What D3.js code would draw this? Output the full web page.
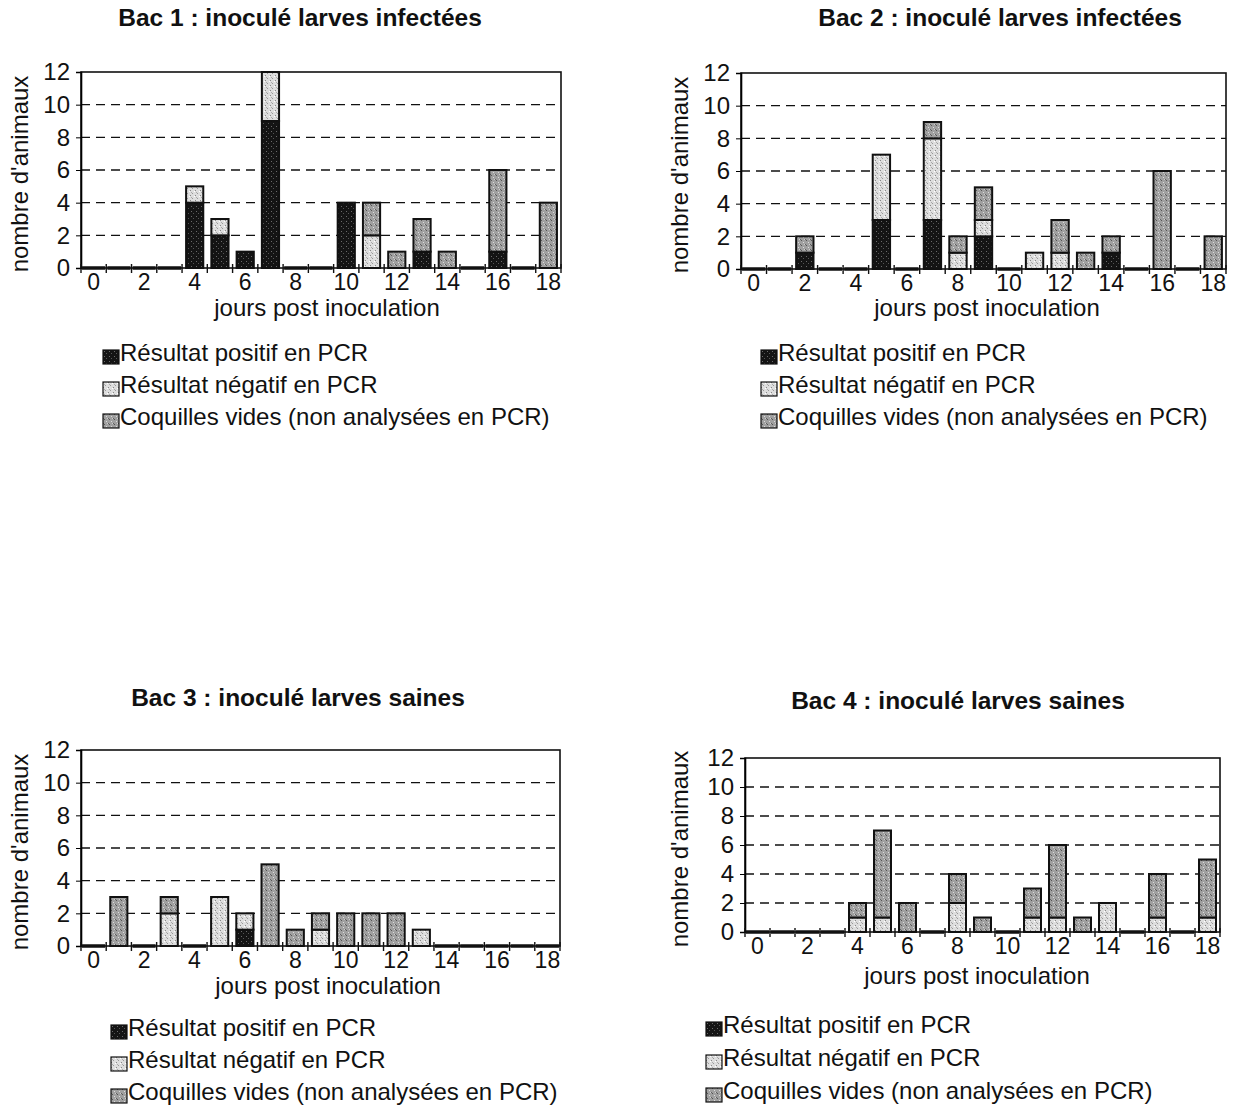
<!DOCTYPE html>
<html>
<head>
<meta charset="utf-8">
<script src="https://cdn.jsdelivr.net/npm/d3@7"></script>
<style>
body { margin: 0; background: #fff; }
text { font-family: Arial, "Liberation Sans", sans-serif; fill: #111; }
.title { font-weight: bold; font-size: 24.5px; }
.lbl { font-size: 24px; }
</style>
</head>
<body>
<svg width="1238" height="1113"></svg>
<script>
// jours post inoculation
const days = [0, 1, 2, 3, 4, 5, 6, 7, 8, 9, 10, 11, 12, 13, 14, 15, 16, 17, 18]
const xTicks = [0, 2, 4, 6, 8, 10, 12, 14, 16, 18]
const yTicks = [0, 2, 4, 6, 8, 10, 12]

const titles = [
    "Bac 1 : inoculé larves infectées",
    "Bac 2 : inoculé larves infectées",
    "Bac 3 : inoculé larves saines",
    "Bac 4 : inoculé larves saines"
]
const legendLabels = [
    "Résultat positif en PCR",
    "Résultat négatif en PCR",
    "Coquilles vides (non analysées en PCR)"
]

// Bac 1
const pos1 = [0, 0, 0, 0, 4, 2, 1, 9, 0, 0, 4, 0, 0, 1, 0, 0, 1, 0, 0]
const neg1 = [0, 0, 0, 0, 1, 1, 0, 3, 0, 0, 0, 2, 0, 0, 0, 0, 0, 0, 0]
const vid1 = [0, 0, 0, 0, 0, 0, 0, 0, 0, 0, 0, 2, 1, 2, 1, 0, 5, 0, 4]
// Bac 2
const pos2 = [0, 0, 1, 0, 0, 3, 0, 3, 0, 2, 0, 0, 0, 0, 1, 0, 0, 0, 0]
const neg2 = [0, 0, 0, 0, 0, 4, 0, 5, 1, 1, 0, 1, 1, 0, 0, 0, 0, 0, 0]
const vid2 = [0, 0, 1, 0, 0, 0, 0, 1, 1, 2, 0, 0, 2, 1, 1, 0, 6, 0, 2]
// Bac 3
const pos3 = [0, 0, 0, 0, 0, 0, 1, 0, 0, 0, 0, 0, 0, 0, 0, 0, 0, 0, 0]
const neg3 = [0, 0, 0, 2, 0, 3, 1, 0, 0, 1, 0, 0, 0, 1, 0, 0, 0, 0, 0]
const vid3 = [0, 3, 0, 1, 0, 0, 0, 5, 1, 1, 2, 2, 2, 0, 0, 0, 0, 0, 0]
// Bac 4
const pos4 = [0, 0, 0, 0, 0, 0, 0, 0, 0, 0, 0, 0, 0, 0, 0, 0, 0, 0, 0]
const neg4 = [0, 0, 0, 0, 1, 1, 0, 0, 2, 0, 0, 1, 1, 0, 2, 0, 1, 0, 1]
const vid4 = [0, 0, 0, 0, 1, 6, 2, 0, 2, 1, 0, 2, 5, 1, 0, 0, 3, 0, 4]

const keys = ["pos", "neg", "vid"]

const panels = [
    { title: titles[0], pos: pos1, neg: neg1, vid: vid1,
      left: 81, right: 561, top: 72, bottom: 268, titleX: 300, titleY: 20,
      yTitleX: 22, xTitleX: 327, xTitleY: 310, legendX: 103, legendY: [355, 387, 419] },
    { title: titles[1], pos: pos2, neg: neg2, vid: vid2,
      left: 741, right: 1226, top: 73, bottom: 269, titleX: 1000, titleY: 20,
      yTitleX: 682, xTitleX: 987, xTitleY: 310, legendX: 761, legendY: [355, 387, 419] },
    { title: titles[2], pos: pos3, neg: neg3, vid: vid3,
      left: 81, right: 560, top: 750, bottom: 946, titleX: 298, titleY: 700,
      yTitleX: 22, xTitleX: 328, xTitleY: 988, legendX: 111, legendY: [1030, 1062, 1094] },
    { title: titles[3], pos: pos4, neg: neg4, vid: vid4,
      left: 745, right: 1220, top: 758, bottom: 932, titleX: 958, titleY: 703,
      yTitleX: 682, xTitleX: 977, xTitleY: 978, legendX: 706, legendY: [1027, 1060, 1093] }
]

const svg = d3.select("svg")
const defs = svg.append("defs")

// speckled fills, like the photocopied original
const addPattern = (id, bg, dots) => {
    const p = defs.append("pattern")
        .attr("id", id)
        .attr("width", 5)
        .attr("height", 5)
        .attr("patternUnits", "userSpaceOnUse")
    p.append("rect").attr("width", 5).attr("height", 5).attr("fill", bg)
    dots.forEach(d => {
        p.append("rect")
            .attr("x", d[0]).attr("y", d[1])
            .attr("width", 1).attr("height", 1)
            .attr("fill", d[2])
    })
}
addPattern("pat-pos", "#141414", [[1, 1, "#6a6a6a"], [3, 3, "#555"]])
addPattern("pat-neg", "#dedede", [[0, 0, "#888"], [2, 3, "#999"], [4, 1, "#fff"], [1, 2, "#aaa"]])
addPattern("pat-vid", "#a0a0a0", [[1, 0, "#555"], [3, 2, "#dcdcdc"], [0, 4, "#606060"], [4, 4, "#cfcfcf"]])

const fills = { pos: "url(#pat-pos)", neg: "url(#pat-neg)", vid: "url(#pat-vid)" }

const drawPanel = (p) => {
    const g = svg.append("g")

    const x = d3.scaleBand()
        .domain(days)
        .range([p.left, p.right])
        .paddingInner(0.32)
        .paddingOuter(0.16)

    const y = d3.scaleLinear()
        .domain([0, 12])
        .range([p.bottom, p.top])

    const rows = days.map((d, i) => {
        return { day: d, pos: p.pos[i], neg: p.neg[i], vid: p.vid[i] }
    })
    const series = d3.stack().keys(keys)(rows)

    // dashed grid
    g.selectAll("line.grid")
        .data(yTicks.filter(v => v > 0 && v < 12))
        .enter()
        .append("line")
        .attr("class", "grid")
        .attr("x1", p.left)
        .attr("x2", p.right)
        .attr("y1", d => y(d))
        .attr("y2", d => y(d))
        .attr("stroke", "#111")
        .attr("stroke-width", 1.4)
        .attr("stroke-dasharray", "9,6")

    // frame
    g.append("rect")
        .attr("x", p.left)
        .attr("y", y(12))
        .attr("width", p.right - p.left)
        .attr("height", y(0) - y(12))
        .attr("fill", "none")
        .attr("stroke", "#111")
        .attr("stroke-width", 1.6)

    // y axis
    const yAxis = g.append("g")
        .attr("transform", `translate(${p.left},0)`)
        .call(d3.axisLeft(y).tickValues(yTicks).tickSize(5).tickPadding(6))
    yAxis.select(".domain").attr("stroke-width", 1.6)
    yAxis.selectAll("text")
        .attr("font-size", 24)
        .attr("font-family", "Arial, 'Liberation Sans', sans-serif")

    // x ticks sit between the day cells
    const gap = (x.step() - x.bandwidth()) / 2
    const bounds = days.map(d => x(d) - gap).concat([x(days[days.length - 1]) + x.bandwidth() + gap])
    g.selectAll("line.xtick")
        .data(bounds)
        .enter()
        .append("line")
        .attr("class", "xtick")
        .attr("x1", d => d)
        .attr("x2", d => d)
        .attr("y1", y(0) - 4)
        .attr("y2", y(0) + 5)
        .attr("stroke", "#111")
        .attr("stroke-width", 1.4)

    const xAxis = g.append("g")
        .attr("transform", `translate(0,${y(0)})`)
        .call(d3.axisBottom(x).tickValues(xTicks).tickSize(0).tickPadding(6))
    xAxis.select(".domain").remove()
    xAxis.selectAll("text")
        .attr("font-size", 23)
        .attr("font-family", "Arial, 'Liberation Sans', sans-serif")

    // empty days: thick segment on the baseline
    g.selectAll("line.zero")
        .data(rows.filter(r => r.pos + r.neg + r.vid === 0))
        .enter()
        .append("line")
        .attr("class", "zero")
        .attr("x1", d => x(d.day) - 3)
        .attr("x2", d => x(d.day) + x.bandwidth() + 3)
        .attr("y1", y(0))
        .attr("y2", y(0))
        .attr("stroke", "#111")
        .attr("stroke-width", 3.5)

    // stacked bars
    series.forEach(s => {
        g.selectAll(null)
            .data(s.filter(d => d[1] > d[0]))
            .enter()
            .append("rect")
            .attr("x", d => x(d.data.day))
            .attr("y", d => y(d[1]))
            .attr("width", x.bandwidth())
            .attr("height", d => y(d[0]) - y(d[1]))
            .attr("fill", fills[s.key])
            .attr("stroke", "#111")
            .attr("stroke-width", 2)
    })

    // titles
    g.append("text")
        .attr("class", "title")
        .attr("x", p.titleX)
        .attr("y", p.titleY)
        .attr("text-anchor", "middle")
        .attr("dominant-baseline", "middle")
        .text(p.title)

    g.append("text")
        .attr("class", "lbl")
        .attr("transform", `translate(${p.yTitleX},${(y(0) + y(12)) / 2 + 4}) rotate(-90)`)
        .attr("text-anchor", "middle")
        .attr("dominant-baseline", "middle")
        .text("nombre d'animaux")

    g.append("text")
        .attr("class", "lbl")
        .attr("x", p.xTitleX)
        .attr("y", p.xTitleY)
        .attr("text-anchor", "middle")
        .attr("dominant-baseline", "middle")
        .text("jours post inoculation")

    // legend
    const leg = g.selectAll("g.leg")
        .data(keys)
        .enter()
        .append("g")
        .attr("class", "leg")
        .attr("transform", (d, i) => `translate(${p.legendX},${p.legendY[i]})`)

    leg.append("rect")
        .attr("x", 0)
        .attr("y", -5)
        .attr("width", 16)
        .attr("height", 14)
        .attr("fill", d => fills[d])
        .attr("stroke", "#111")
        .attr("stroke-width", 1.2)

    leg.append("text")
        .attr("class", "lbl")
        .attr("x", 17)
        .attr("y", 0)
        .attr("dominant-baseline", "middle")
        .text((d, i) => legendLabels[i])
}

panels.forEach(drawPanel)
</script>
</body>
</html>
